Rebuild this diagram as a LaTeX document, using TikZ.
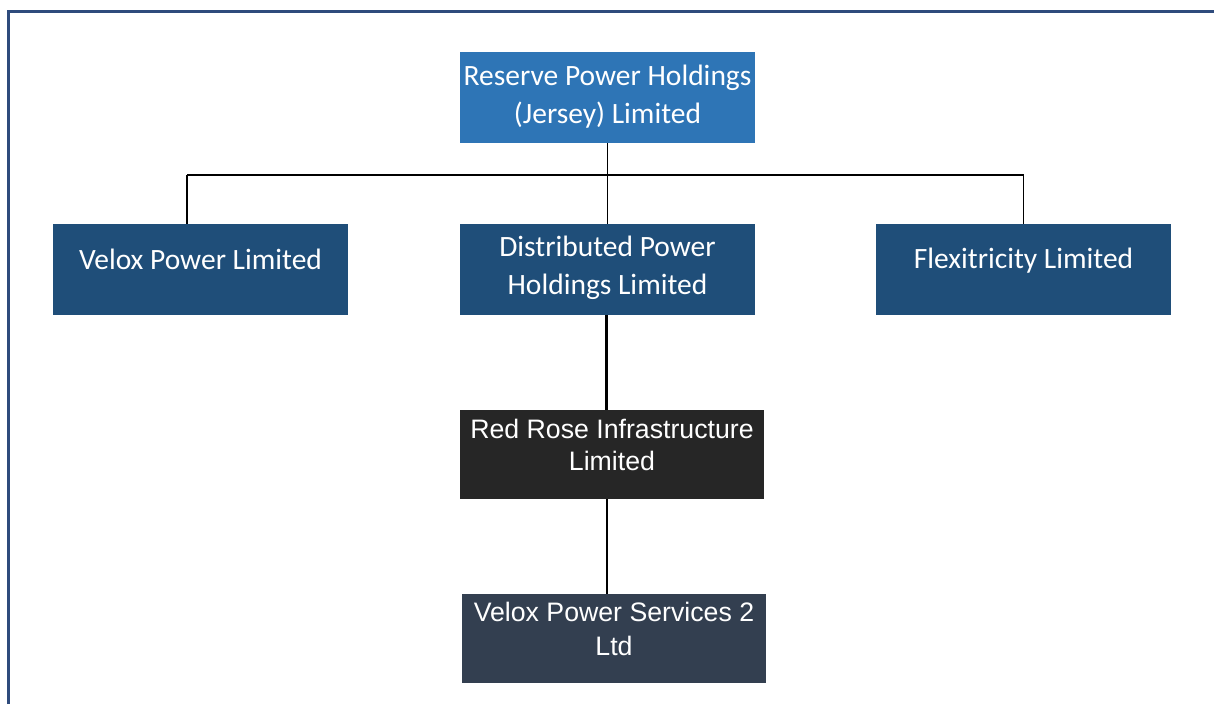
\documentclass[tikz,border=0pt]{standalone}
\usepackage{fontspec}
\setmainfont{Carlito}
\newfontfamily\arialf{Liberation Sans}
\definecolor{frameblue}{HTML}{2F4B7C}
\definecolor{topblue}{HTML}{2E75B6}
\definecolor{midblue}{HTML}{1F4E79}
\definecolor{darkgrey}{HTML}{262626}
\definecolor{slate}{HTML}{333F50}
\begin{document}
\begin{tikzpicture}[x=1pt,y=1pt,
  box/.style={rectangle, inner sep=0pt, draw=none},
  ctext/.style={text=white, align=center, font=\fontsize{29.5}{38}\selectfont, inner sep=0pt},
  atext/.style={text=white, align=center, inner sep=0pt},
  thin/.style={draw=black, line width=1.1pt},
  thick/.style={draw=black, line width=2.2pt}]
\useasboundingbox (0,0) rectangle (1214,-704);
\fill[white] (0,0) rectangle (1214,-704);
% frame
\draw[frameblue, line width=3pt] (8.5,-704) -- (8.5,-11.5) -- (1214,-11.5);
% boxes
\node[box, fill=topblue, minimum width=295pt, minimum height=91pt] (top) at (607.5,-97.5) {};
\node[box, fill=midblue, minimum width=295pt, minimum height=91pt] (velox) at (200.5,-269.5) {};
\node[box, fill=midblue, minimum width=295pt, minimum height=91pt] (dist) at (607.5,-269.5) {};
\node[box, fill=midblue, minimum width=295pt, minimum height=91pt] (flex) at (1023.5,-269.5) {};
\node[box, fill=darkgrey, minimum width=304pt, minimum height=89pt] (red) at (612,-454.5) {};
\node[box, fill=slate, minimum width=304pt, minimum height=89pt] (vps) at (614,-638.5) {};
% texts
\node[ctext] (topt) at (607.5,-97) {Reserve Power Holdings\\(Jersey) Limited};
\node[ctext] (veloxt) at (200.5,-259) {Velox Power Limited};
\node[ctext] (distt) at (607.5,-268) {Distributed Power\\Holdings Limited};
\node[ctext] (flext) at (1023.5,-261) {Flexitricity Limited};
\node[atext, font=\arialf\fontsize{26.7}{32}\selectfont] (redt) at (612,-445) {Red Rose Infrastructure\\Limited};
\node[atext, font=\arialf\fontsize{26.7}{34}\selectfont] (vpst) at (614,-629) {Velox Power Services 2\\Ltd};
% connectors
\coordinate (bus) at (607.5,-175);
\coordinate (busl) at (187,-175);
\coordinate (busr) at (1023.5,-175);
\draw[thin] (top.south) -- (bus);
\draw[thin] (busl) -- (busr);
\draw[thin] (busl) -- (busl |- velox.north);
\draw[thin] (bus) -- (dist.north);
\draw[thin] (busr) -- (flex.north);
\draw[thick] ([xshift=-1pt]dist.south) -- ([xshift=-1pt]dist.south |- red.north);
\draw[thick] (607,-499) -- (607,-594);
\end{tikzpicture}
\end{document}
